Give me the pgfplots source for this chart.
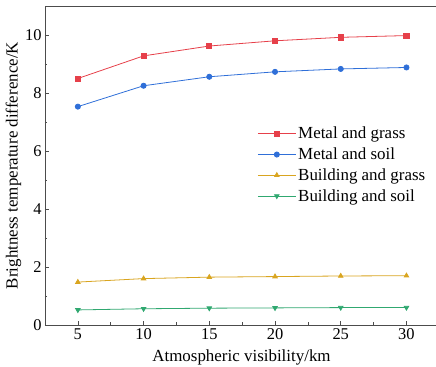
\documentclass[border=0pt]{standalone}
\usepackage{pgfplots}
\pgfplotsset{compat=1.18}
\usepackage{fontspec}
\setmainfont{Liberation Serif}
\definecolor{cred}{HTML}{E6404A}
\definecolor{cblue}{HTML}{2F6FD8}
\definecolor{cgold}{HTML}{D9A520}
\definecolor{cgreen}{HTML}{30A870}
\begin{document}
\begin{tikzpicture}
\begin{axis}[
  scale only axis,
  width=393bp, height=319bp,
  xmin=2.5, xmax=32.4, ymin=0, ymax=11,
  xtick={5,10,15,20,25,30},
  ytick={0,2,4,6,8,10},
  minor x tick num=1,
  minor y tick num=1,
  xtick pos=bottom, ytick pos=left,
  tick align=inside,
  major tick length=4bp, minor tick length=2.5bp,
  tick style={black!70, line width=0.6pt},
  axis line style={black!70, line width=0.8pt},
  /pgf/number format/assume math mode=true,
  tick label style={font=\fontsize{16.5}{19}\selectfont},
  label style={font=\fontsize{17}{20}\selectfont},
  xlabel={Atmospheric visibility/km},
  ylabel={Brightness temperature difference/K},
  xlabel style={yshift=-3bp},
  ylabel style={yshift=-3bp},
  legend style={draw=none, fill=none, at={(0.54,0.627)}, anchor=north west,
    font=\fontsize{17}{20}\selectfont, row sep=3.5bp, inner sep=0pt},
  legend cell align=left,
  legend image code/.code={\draw[#1] (0bp,0bp) -- (38bp,0bp); \draw[#1, mark repeat=1] plot coordinates {(19bp,0bp)};},
  every axis plot/.append style={line width=0.8pt, mark size=2.6pt},
]
\addplot[cred, mark=square*] coordinates {(5,8.50) (10,9.28) (15,9.62) (20,9.80) (25,9.92) (30,9.98)};
\addlegendentry{Metal and grass}
\addplot[cblue, mark=*] coordinates {(5,7.53) (10,8.25) (15,8.56) (20,8.73) (25,8.83) (30,8.88)};
\addlegendentry{Metal and soil}
\addplot[cgold, mark=triangle*] coordinates {(5,1.48) (10,1.60) (15,1.65) (20,1.67) (25,1.69) (30,1.70)};
\addlegendentry{Building and grass}
\addplot[cgreen, mark=triangle*, mark options={rotate=180}] coordinates {(5,0.52) (10,0.56) (15,0.58) (20,0.59) (25,0.60) (30,0.60)};
\addlegendentry{Building and soil}
\coordinate (bl) at (rel axis cs:0,0);
\coordinate (tl) at (rel axis cs:0,1);
\end{axis}
\pgfresetboundingbox
\useasboundingbox ([shift={(-45bp,-42bp)}]bl) rectangle ([shift={(391bp,6bp)}]tl);
\end{tikzpicture}
\end{document}
